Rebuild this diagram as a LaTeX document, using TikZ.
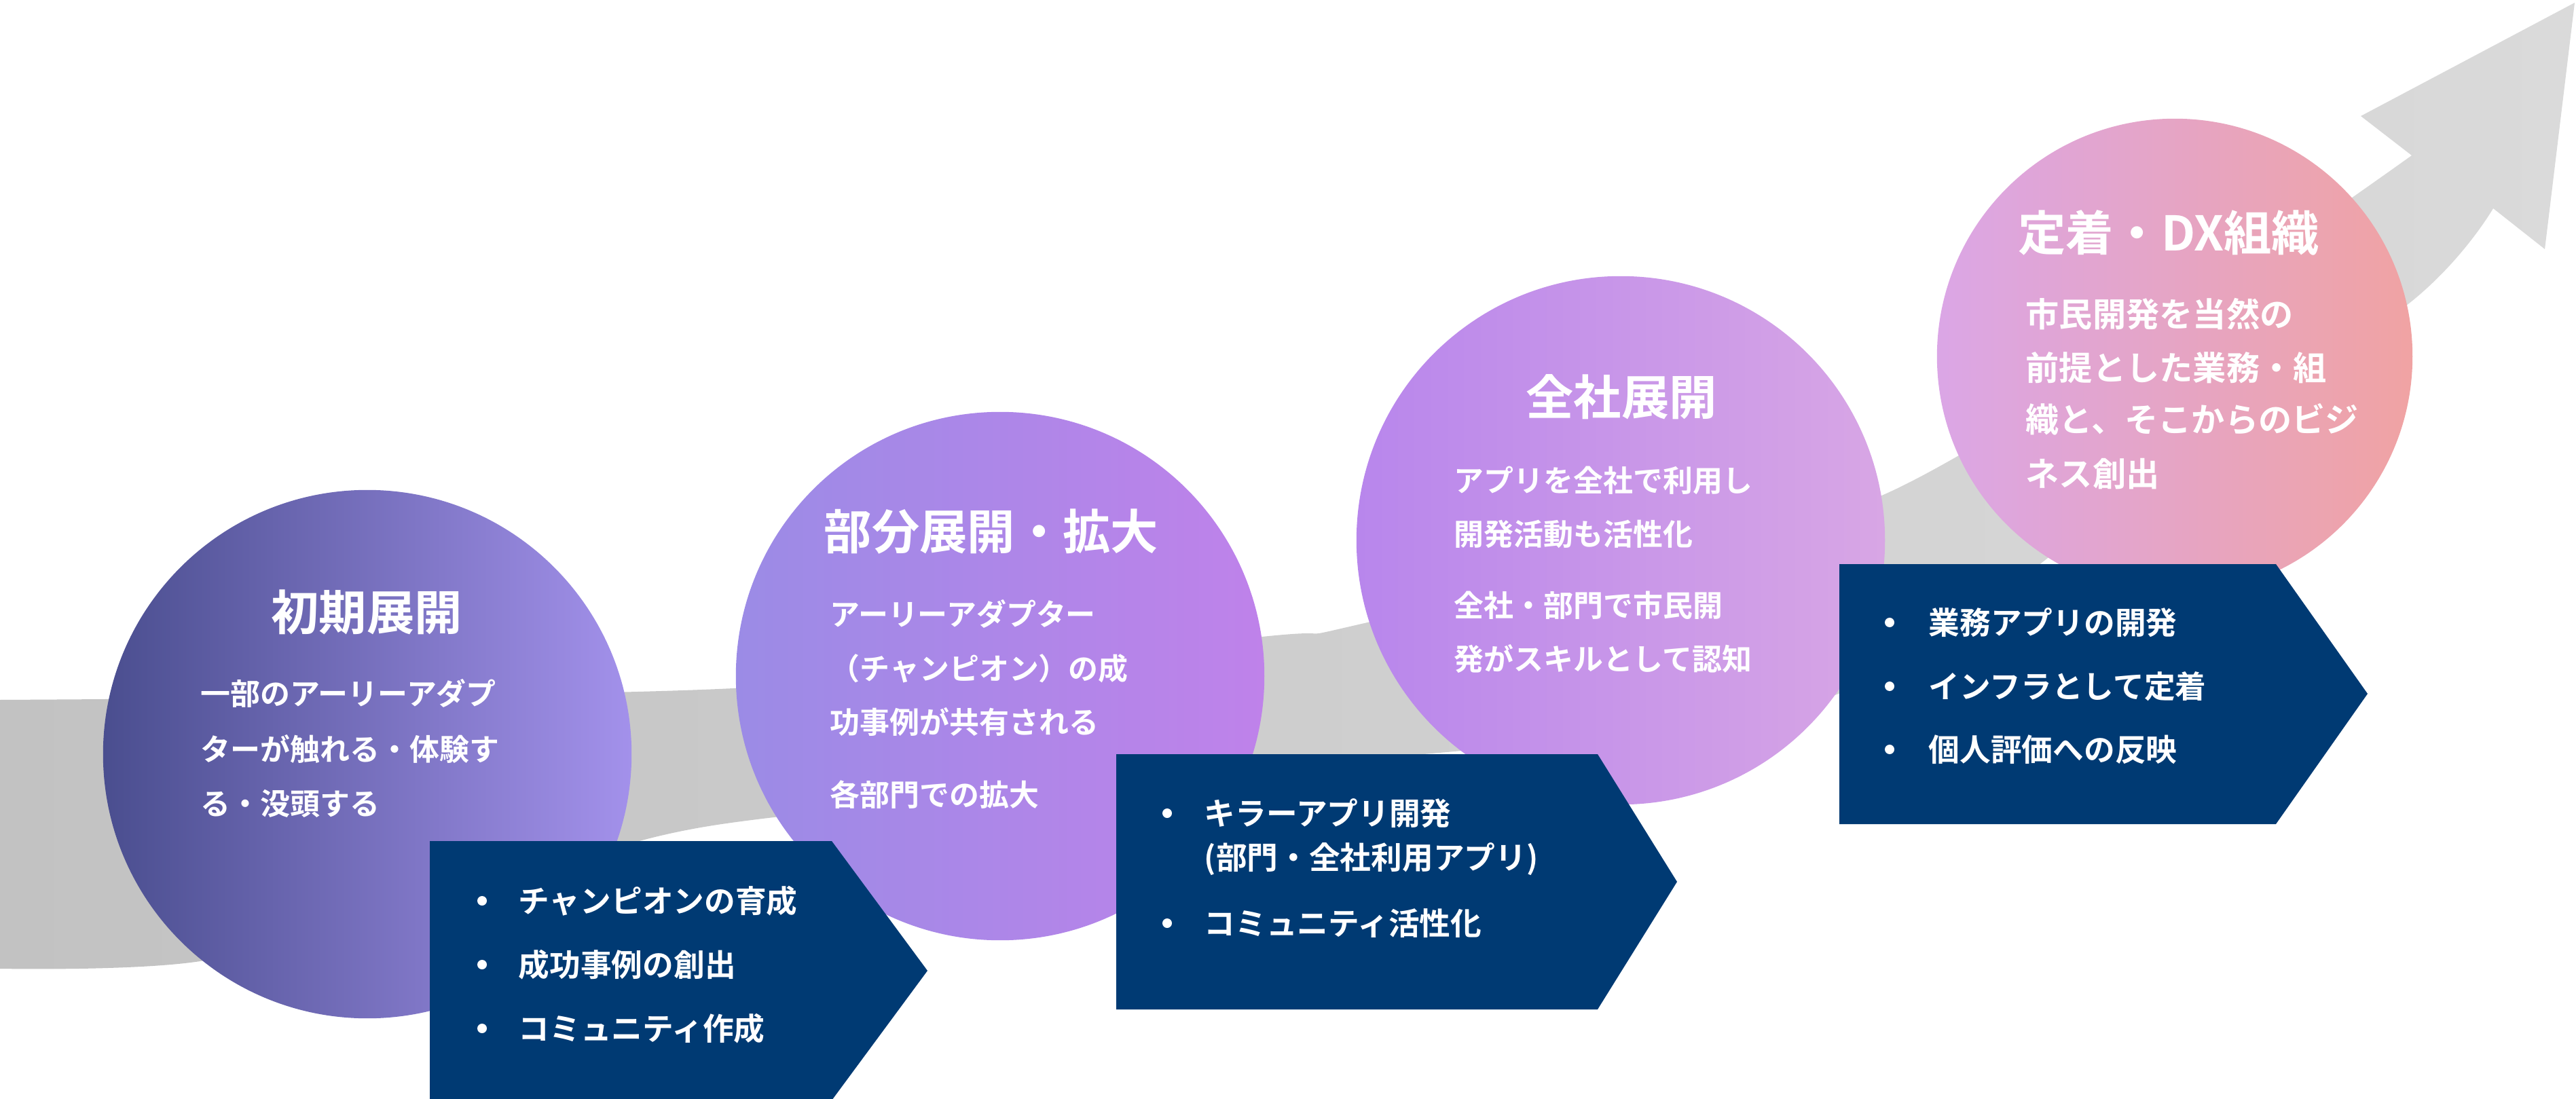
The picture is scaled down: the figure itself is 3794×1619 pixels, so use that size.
\documentclass[tikz,border=0pt]{standalone}
\usepackage{fontspec}
\setmainfont{Noto Sans CJK JP}[BoldFont={Noto Sans CJK JP Bold}]
\usetikzlibrary{positioning}
\definecolor{navy}{HTML}{003A73}
\definecolor{c1l}{HTML}{4A4E8F}\definecolor{c1r}{HTML}{A391EB}
\definecolor{c2l}{HTML}{9B8BE6}\definecolor{c2r}{HTML}{BF82EA}
\definecolor{c3l}{HTML}{B886EC}\definecolor{c3r}{HTML}{D8A6E5}
\definecolor{c4l}{HTML}{DBA6E6}\definecolor{c4r}{HTML}{F0A3A3}
\definecolor{gl}{HTML}{C2C2C2}\definecolor{gr}{HTML}{DADADA}
\tikzset{
 stage/.style={circle,minimum size=7.78cm,inner sep=0pt},
 ttl/.style={text=white,font=\bfseries\fontsize{20pt}{24pt}\selectfont,anchor=center},
 body/.style={text=white,font=\bfseries\fontsize{12.5pt}{15pt}\selectfont,anchor=west,inner sep=0pt},
 bul/.style={text=white,font=\bfseries\fontsize{13pt}{15pt}\selectfont,anchor=west,inner sep=0pt},
 dot/.style={circle,fill=white,inner sep=0pt,minimum size=0.14cm},
 box/.style={fill=navy}
}
\begin{document}
\begin{tikzpicture}[x=0.01cm,y=-0.01cm]
\useasboundingbox (0,0) rectangle (3794,1619);
% grey growth arrow
\path[left color=gl,right color=gr]
 plot[smooth] coordinates {(0,1031)(1080,1014)(1859,938)(2014,917)(2776,728)(3552,229)}
 -- (3477,171) -- (3792,4) -- (3748,367) -- (3672,307)
 -- plot[smooth] coordinates {(3672,307)(3548,447)(3100,760)(2676,1033)(1900,1130)(1050,1216)(700,1320)(295,1416)(0,1427)} -- cycle;
% circles
\node[stage,left color=c1l,right color=c1r] (s1) at (541,1111) {};
\node[stage,left color=c2l,right color=c2r] (s2) at (1473,996) {};
\node[stage,left color=c3l,right color=c3r] (s3) at (2387,796) {};
\node[stage,minimum size=7.0cm,left color=c4l,right color=c4r] (s4) at (3203,525) {};
% boxes
\fill[box] (633,1239) -- (1225,1239) -- (1366,1430) -- (1225,1621) -- (633,1621) -- cycle;
\fill[box] (1644,1111) -- (2353,1111) -- (2470,1299) -- (2353,1487) -- (1644,1487) -- cycle;
\fill[box] (2709,831) -- (3352,831) -- (3487,1022) -- (3352,1214) -- (2709,1214) -- cycle;
% stage 1
\node[ttl] (t1) at (540,902) {初期展開};
\node[body] (a1) at (295,1021) {一部のアーリーアダプ};
\node[body] (a2) at (295,1103) {ターが触れる・体験す};
\node[body] (a3) at (295,1184) {る・没頭する};
% stage 2
\node[ttl] (t2) at (1460,783) {部分展開・拡大};
\node[body] (b1) at (1222,904) {アーリーアダプター};
\node[body] (b2) at (1222,985) {（チャンピオン）の成};
\node[body] (b3) at (1222,1063) {功事例が共有される};
\node[body] (b4) at (1222,1171) {各部門での拡大};
% stage 3
\node[ttl] (t3) at (2388,585) {全社展開};
\node[body] (c1) at (2141,708) {アプリを全社で利用し};
\node[body] (c2) at (2141,787) {開発活動も活性化};
\node[body] (c3) at (2141,892) {全社・部門で市民開};
\node[body] (c4) at (2141,971) {発がスキルとして認知};
% stage 4
\node[ttl] (t4) at (3194,343) {定着・DX組織};
\node[body,font=\bfseries\fontsize{14pt}{16pt}\selectfont] (d1) at (2983,463) {市民開発を当然の};
\node[body,font=\bfseries\fontsize{14pt}{16pt}\selectfont] (d2) at (2983,542) {前提とした業務・組};
\node[body,font=\bfseries\fontsize{14pt}{16pt}\selectfont] (d3) at (2983,618) {織と、そこからのビジ};
\node[body,font=\bfseries\fontsize{14pt}{16pt}\selectfont] (d4) at (2983,698) {ネス創出};
% box 1
\node[dot] (p1) at (710,1327) {};\node[bul] (e1) at (763,1327) {チャンピオンの育成};
\node[dot] (p2) at (710,1421) {};\node[bul] (e2) at (763,1421) {成功事例の創出};
\node[dot] (p3) at (710,1515) {};\node[bul] (e3) at (763,1515) {コミュニティ作成};
% box 2
\node[dot] (q1) at (1719,1198) {};\node[bul] (f1) at (1773,1198) {キラーアプリ開発};
\node[bul] (f2) at (1773,1266) {(部門・全社利用アプリ)};
\node[dot] (q3) at (1719,1360) {};\node[bul] (f3) at (1773,1360) {コミュニティ活性化};
% box 3
\node[dot] (r1) at (2783,917) {};\node[bul] (g1) at (2840,917) {業務アプリの開発};
\node[dot] (r2) at (2783,1011) {};\node[bul] (g2) at (2840,1011) {インフラとして定着};
\node[dot] (r3) at (2783,1104) {};\node[bul] (g3) at (2840,1104) {個人評価への反映};
\end{tikzpicture}
\end{document}
